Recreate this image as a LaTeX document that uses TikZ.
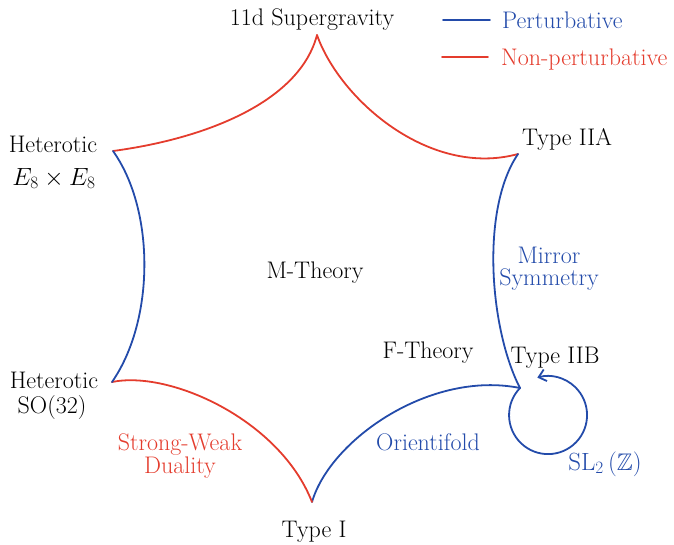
\documentclass[tikz,border=0pt]{standalone}
\usepackage{amsmath,amssymb}
\usepackage{xcolor}
\usetikzlibrary{positioning, arrows.meta}
\definecolor{pblue}{RGB}{35,75,170}
\definecolor{pred}{RGB}{228,60,45}

\begin{document}
\begin{tikzpicture}[x=1pt, y=-1pt,
  every node/.style={inner sep=0pt, font=\fontsize{24}{26}\selectfont},
  lbl/.style={anchor=base},
  pert/.style={draw=pblue, line width=1.8pt, line cap=round},
  nonpert/.style={draw=pred, line width=1.8pt, line cap=round}]
\useasboundingbox (0,0) rectangle (674,544);
\coordinate (sugra) at (317,35);
\coordinate (hete) at (113,151);
\coordinate (iia) at (518,154);
\coordinate (iib) at (520,388);
\coordinate (typei) at (312,502);
\coordinate (heso) at (112,382);
\node[lbl] (sugratxt) at (312,25) {11d Supergravity};
\node[lbl] (hetetxt) at (53,152) {Heterotic};
\node[lbl] (hetetxtb) at (54,185) {$E_8\times E_8$};
\node[lbl] (iiatxt) at (567,145) {Type IIA};
\node[lbl] (iibtxt) at (555,363) {Type IIB};
\node[lbl] (typeitxt) at (314,537) {Type I};
\node[lbl] (hesotxt) at (54,388) {Heterotic};
\node[lbl] (hesotxtb) at (52,413) {SO(32)};
\node[lbl] (mth) at (315,278) {M-Theory};
\node[lbl] (fth) at (428,358) {F-Theory};
\node[lbl, pblue, align=center] (mirror) at (549,285) {Mirror\\[-4pt]Symmetry};
\node[lbl, pred, align=center] (swd) at (180,473) {Strong-Weak\\[-3pt]Duality};
\node[lbl, pblue] (orient) at (428,450) {Orientifold};
\node[lbl, pblue] (sltwo) at (605,470) {$\mathrm{SL}_2\,(\mathbb{Z})$};
\coordinate (lgblue) at (443,20);
\coordinate (lgred) at (442,57);
\draw[pert] (lgblue) -- ++(47,0);
\draw[nonpert] (lgred) -- ++(46,0);
\node[lbl, pblue, anchor=base west] (lgbluetxt) at (502,28) {Perturbative};
\node[lbl, pred, anchor=base west] (lgredtxt) at (501,65) {Non-perturbative};
\draw[nonpert] (hete) .. controls (210,138) and (300,100) .. (sugra);
\draw[nonpert] (sugra) .. controls (340,100) and (430,178) .. (iia);
\draw[pert] (iia) .. controls (480,210) and (490,330) .. (iib);
\draw[pert] (iib) .. controls (430,370) and (330,440) .. (typei);
\draw[nonpert] (typei) .. controls (280,420) and (170,370) .. (heso);
\draw[pert] (heso) .. controls (155,320) and (155,210) .. (hete);
\draw[pert, -{Straight Barb[length=7pt, width=12pt]}] (iib) arc[start angle=224, end angle=-106, radius=39];
\end{tikzpicture}
\end{document}
